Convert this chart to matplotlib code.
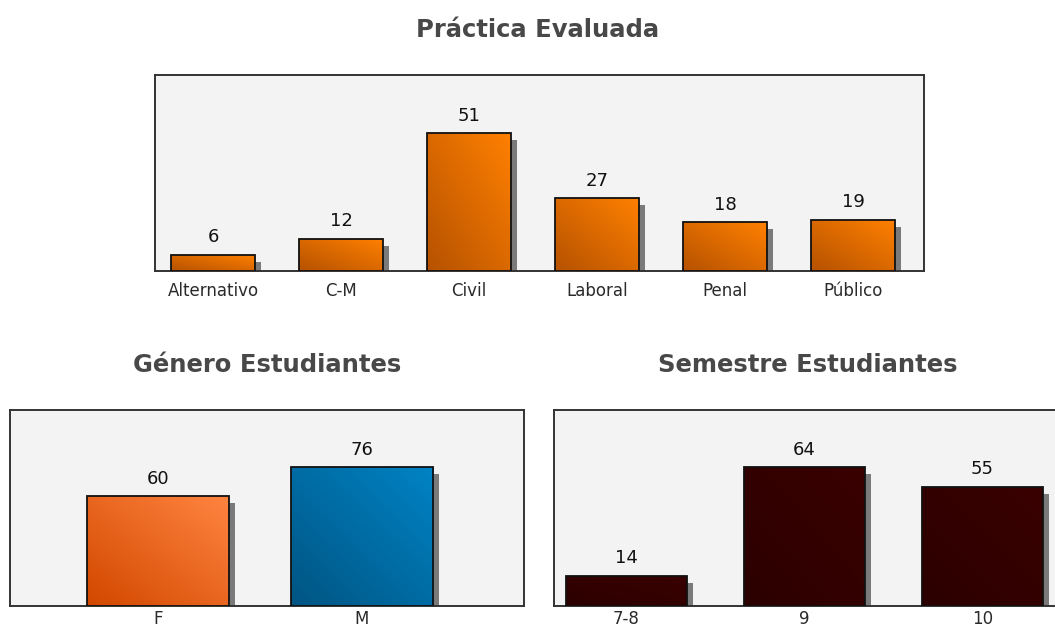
import numpy as np
import matplotlib
matplotlib.use("Agg")
import matplotlib.pyplot as plt
from matplotlib.colors import LinearSegmentedColormap
from matplotlib.transforms import offset_copy

# counts per category
practica_labels = ["Alternativo", "C-M", "Civil", "Laboral", "Penal", "Público"]
practica_values = [6, 12, 51, 27, 18, 19]

genero_labels = ["F", "M"]
genero_values = [60, 76]

semestre_labels = ["7-8", "9", "10"]
semestre_values = [14, 64, 55]

W, H = 1055, 631
fig = plt.figure(figsize=(W / 100, H / 100), dpi=100)
fig.patch.set_facecolor("white")


def px_axes(x0, y0, x1, y1):
    # box given in pixel coords, top-left origin
    return fig.add_axes([x0 / W, 1 - y1 / H, (x1 - x0) / W, (y1 - y0) / H])


# diagonal gradient: dark at bottom-left, light at top-right
yy, xx = np.mgrid[0:1:64j, 0:1:64j]
grad = (xx + yy) / 2.0


def gradient_bars(ax, labels, values, width, colors, ymax, xlim, pad=8):
    x = np.arange(len(labels))
    ax.set_facecolor("#f3f3f3")

    # drop shadow, shifted a few pixels right and down
    shadow_tr = offset_copy(ax.transData, fig=fig, x=6, y=-7, units="dots")
    ax.bar(x, values, width, color="#7a7a7a", transform=shadow_tr, zorder=2)

    frames = ax.bar(x, values, width, facecolor="none", edgecolor="#111111",
                    linewidth=1.3, zorder=4)
    for i, b in enumerate(frames):
        cmap = LinearSegmentedColormap.from_list("g%d" % i, colors[i % len(colors)])
        x0, y0 = b.get_x(), b.get_y()
        im = ax.imshow(grad, cmap=cmap, origin="lower", aspect="auto",
                       extent=(x0, x0 + b.get_width(), y0, y0 + b.get_height()),
                       zorder=3, interpolation="bilinear")
        im.set_clip_path(b)
        ax.annotate(str(values[i]), (x[i], values[i]), xytext=(0, 6),
                    textcoords="offset points", ha="center", va="bottom",
                    fontsize=13, color="#111111")
    ax.set_xlim(*xlim)
    ax.set_ylim(0, ymax)

    ax.set_xticks(x)
    ax.set_xticklabels(labels, fontsize=12, color="#2a2a2a")
    ax.tick_params(axis="x", length=0, pad=pad)
    ax.set_yticks([])
    for s in ax.spines.values():
        s.set_color("#333333")
        s.set_linewidth(1.4)


orange = [("#b65200", "#ff8000")]
gender = [("#d24800", "#ff8440"), ("#005583", "#0083c4")]
maroon = [("#2c0000", "#3a0000")]

ax1 = px_axes(155, 75, 924, 271)
gradient_bars(ax1, practica_labels, practica_values, 84 / 128, orange,
              196 / 2.706, ((155 - 213) / 128, (924 - 213) / 128))

ax2 = px_axes(10, 410, 524, 606)
gradient_bars(ax2, genero_labels, genero_values, 142 / 204, gender,
              196 / 1.83, ((10 - 158) / 204, (524 - 158) / 204), pad=3)

ax3 = px_axes(554, 410, 1058, 606)
gradient_bars(ax3, semestre_labels, semestre_values, 121 / 178, maroon,
              196 / 2.17, ((554 - 626.5) / 178, (1058 - 626.5) / 178), pad=3)

title_kw = dict(ha="center", va="center", fontsize=17.5, fontweight="bold",
                color="#484848", family="DejaVu Sans")
fig.text(538 / W, 1 - 30 / H, "Práctica Evaluada", **title_kw)
fig.text(267 / W, 1 - 365 / H, "Género Estudiantes", **title_kw)
fig.text(808 / W, 1 - 365 / H, "Semestre Estudiantes", **title_kw)

fig.savefig("out.png", dpi=100)
